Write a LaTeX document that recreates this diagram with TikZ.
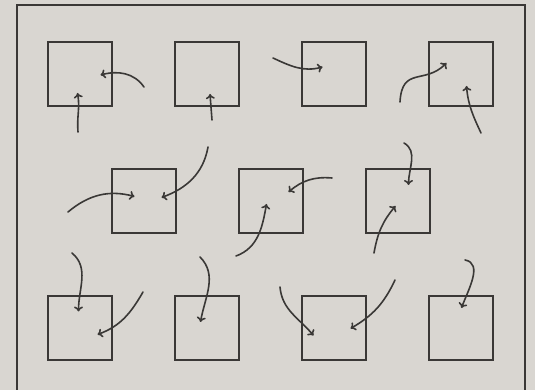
\documentclass[tikz,border=0pt]{standalone}
\usetikzlibrary{positioning, calc, arrows.meta}
\definecolor{paper}{RGB}{217,214,209}
\definecolor{ink}{RGB}{58,56,54}

\begin{document}
\begin{tikzpicture}[
    x=1pt, y=1pt,
    node distance=63pt,
    cell/.style={rectangle, draw=ink, line width=2pt, minimum size=64pt, inner sep=0pt, outer sep=0pt},
    flow/.style={-{To[length=5pt,width=9pt]}, line width=1.6pt, draw=ink, line cap=round}
]
% ============== Fondo y marco ==============
\fill[paper] (0,0) rectangle (535,390);
\clip (0,0) rectangle (535,390);
\draw[ink, line width=2pt] (17,-10) -- (17,385) -- (525,385) -- (525,-10);

% ============== Cuadros ==============
\node[cell] (s1) at (80,316) {};
\node[cell, right=of s1] (s2) {};
\node[cell, right=of s2] (s3) {};
\node[cell, right=of s3] (s4) {};
\node[cell, below right=63pt and 0pt of s1] (s5) {};
\node[cell, right=of s5] (s6) {};
\node[cell, right=of s6] (s7) {};
\node[cell, below left=63pt and 0pt of s5] (s8) {};
\node[cell, right=of s8] (s9) {};
\node[cell, right=of s9] (s10) {};
\node[cell, right=of s10] (s11) {};

% ============== Extremos libres ==============
\coordinate (t1)  at (78,258);
\coordinate (t2)  at (144,303);
\coordinate (t3)  at (212,270);
\coordinate (t4)  at (273,332);
\coordinate (t5)  at (400,288);
\coordinate (t6)  at (481,257);
\coordinate (t7)  at (68,178);
\coordinate (t8)  at (208,243);
\coordinate (t9)  at (236,134);
\coordinate (t10) at (332,212);
\coordinate (t11) at (404,247);
\coordinate (t12) at (374,137);
\coordinate (t13) at (72,137);
\coordinate (t14) at (143,98);
\coordinate (t15) at (200,133);
\coordinate (t16) at (280,103);
\coordinate (t17) at (395,110);
\coordinate (t18) at (465,130);

% ============== Fila superior ==============
\draw[flow] (t1) to[out=95,in=-80] ($(s1)+(-2.5,-19)$);
\draw[flow] (t2) to[out=125,in=15] ($(s1)+(20.5,-1)$);
\draw[flow] (t3) -- ($(s2)+(3,-20)$);
\draw[flow] (t4) to[out=-25,in=195] ($(s3)+(-11.5,7)$);
\draw[flow] (t5) .. controls +(2,36) and +(-22,-22) .. ($(s4)+(-14.5,11)$);
\draw[flow] (t6) to[out=115,in=-85] ($(s4)+(5.5,-12)$);

% ============== Fila central ==============
\draw[flow] (t7) to[out=40,in=165] ($(s5)+(-9.5,4.5)$);
\draw[flow] (t8) to[out=-100,in=20] ($(s5)+(17.5,3.5)$);
\draw[flow] (t9) to[out=20,in=-100] ($(s6)+(-4.5,-3)$);
\draw[flow] (t10) to[out=175,in=40] ($(s6)+(17.5,9)$);
\draw[flow] (t11) to[out=-30,in=90] ($(s7)+(10.5,16)$);
\draw[flow] (t12) to[out=80,in=-130] ($(s7)+(-2.5,-5)$);

% ============== Fila inferior ==============
\draw[flow] (t13) to[out=-40,in=90] ($(s8)+(-1.5,16.5)$);
\draw[flow] (t14) to[out=-120,in=20] ($(s8)+(17.5,-6.5)$);
\draw[flow] (t15) to[out=-45,in=80] ($(s9)+(-6.5,6)$);
\draw[flow] (t16) to[out=-85,in=130] ($(s10)+(-20.5,-7.5)$);
\draw[flow] (t17) to[out=-115,in=30] ($(s10)+(16.5,-0.5)$);
\draw[flow] (t18) to[out=-10,in=70] ($(s11)+(0.5,20)$);
\end{tikzpicture}
\end{document}
